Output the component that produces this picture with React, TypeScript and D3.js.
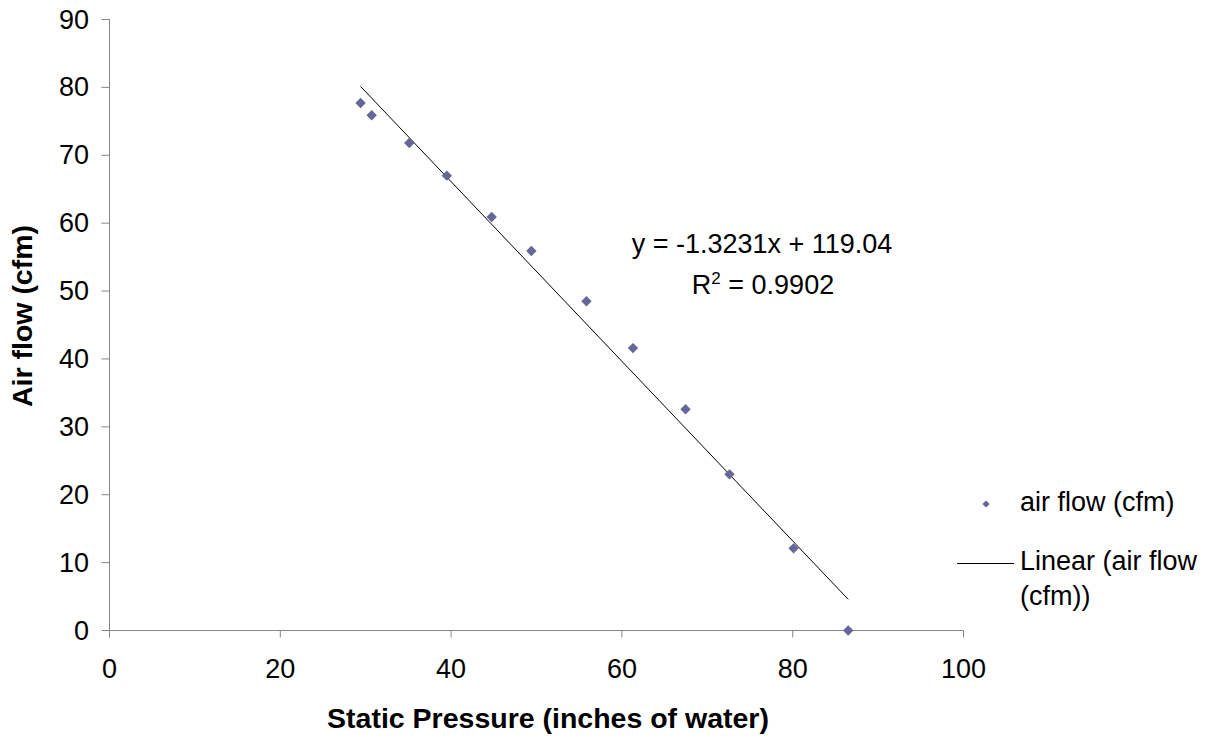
import React from 'react'
import * as d3 from 'd3'

// static pressure (inches of water) vs air flow (cfm)
const pressure = [29.4, 30.7, 35.1, 39.5, 44.75, 49.4, 55.85, 61.3, 67.45, 72.6, 80.1, 86.5]
const airFlow = [77.7, 75.9, 71.8, 67.0, 60.9, 55.9, 48.5, 41.6, 32.6, 23.0, 12.1, 0.0]

const xTicks = [0, 20, 40, 60, 80, 100]
const yTicks = [0, 10, 20, 30, 40, 50, 60, 70, 80, 90]

const slope = -1.3231
const intercept = 119.04
const eqText = 'y = -1.3231x + 119.04'
const r2Value = '0.9902'

const seriesName = 'air flow (cfm)'
const trendNameLines = ['Linear (air flow', '(cfm))']

const W = 1217
const H = 740
const FONT = '"Liberation Sans", Arial, sans-serif'
const FS = 27
const axisColor = '#868686'
const markerColor = '#666699'

export default function App() {
  const x = d3.scaleLinear().domain([0, 100]).range([109.5, 963.5])
  const y = d3.scaleLinear().domain([0, 90]).range([630.5, 19.5])

  const diamondPath = d3.symbol().type(d3.symbolSquare).size(54)() as string
  const legendDiamond = d3.symbol().type(d3.symbolSquare).size(26)() as string

  const x0 = d3.min(pressure) as number
  const x1 = d3.max(pressure) as number
  const trend = d3.line<number>()
    .x(d => x(d))
    .y(d => y(slope * d + intercept))([x0, x1]) as string

  return (
    <svg width={W} height={H} style={{ position: 'absolute', left: 0, top: 0, background: '#fff' }}
      fontFamily={FONT}>
      {/* axes */}
      <line x1={x(0)} x2={x(100)} y1={y(0)} y2={y(0)} stroke={axisColor} strokeWidth={1} />
      <line x1={x(0)} x2={x(0)} y1={y(0)} y2={y(90)} stroke={axisColor} strokeWidth={1} />
      {xTicks.map(t => (
        <g key={'x' + t}>
          <line x1={x(t)} x2={x(t)} y1={y(0)} y2={y(0) + 7} stroke={axisColor} />
          <text x={x(t)} y={678} textAnchor="middle" fontSize={FS} fill="#000">{t}</text>
        </g>
      ))}
      {yTicks.map(t => (
        <g key={'y' + t}>
          <line x1={x(0) - 8} x2={x(0)} y1={y(t)} y2={y(t)} stroke={axisColor} />
          <text x={89} y={y(t) + 9} textAnchor="end" fontSize={FS} fill="#000">{t}</text>
        </g>
      ))}

      {/* trendline */}
      <path d={trend} fill="none" stroke="#000" strokeWidth={1} />

      {/* points */}
      {pressure.map((p, i) => (
        <path key={i} d={diamondPath} fill={markerColor}
          transform={`translate(${x(p)},${y(airFlow[i])}) rotate(45)`} />
      ))}

      {/* regression label */}
      <text x={762} y={253} textAnchor="middle" fontSize={FS} fill="#000">{eqText}</text>
      <text x={763} y={294} textAnchor="middle" fontSize={FS} fill="#000">
        R<tspan dy={-10} fontSize={17}>2</tspan><tspan dy={10}> = {r2Value}</tspan>
      </text>

      {/* axis titles */}
      <text x={548} y={728} textAnchor="middle" fontSize={28.5} fontWeight="bold" fill="#000">
        Static Pressure (inches of water)
      </text>
      <text transform="translate(32,316) rotate(-90)" textAnchor="middle" fontSize={28.5}
        fontWeight="bold" fill="#000">Air flow (cfm)</text>

      {/* legend */}
      <path d={legendDiamond} fill={markerColor} transform="translate(986,504) rotate(45)" />
      <text x={1020} y={511} fontSize={FS} fill="#000">{seriesName}</text>
      <line x1={957} x2={1014} y1={563.5} y2={563.5} stroke="#000" strokeWidth={1} />
      {trendNameLines.map((s, i) => (
        <text key={i} x={1020} y={570 + i * 35} fontSize={FS} fill="#000">{s}</text>
      ))}
    </svg>
  )
}
